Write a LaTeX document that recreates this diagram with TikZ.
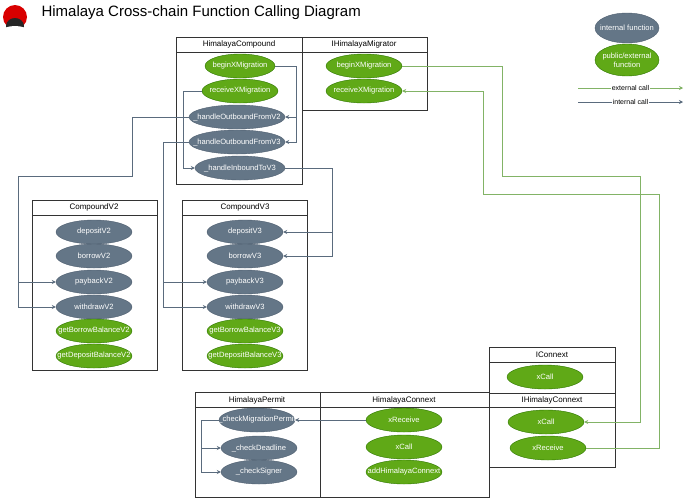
\documentclass[tikz,border=0pt]{standalone}
\usepackage{fontspec}
\setmainfont{Liberation Sans}
\usetikzlibrary{arrows.meta,shapes.geometric}
\definecolor{intfill}{HTML}{647687}
\definecolor{intline}{HTML}{4F5F70}
\definecolor{extfill}{HTML}{60A917}
\definecolor{extline}{HTML}{2D7600}
\definecolor{extcall}{HTML}{82B366}
\definecolor{intcall}{HTML}{5A6B7D}
\tikzset{
  fn/.style={ellipse,draw,inner xsep=-13pt,inner ysep=0pt,minimum width=76pt,minimum height=24pt,
    text=white,font=\fontsize{7.6}{9}\selectfont},
  intfn/.style={fn,fill=intfill,draw=intline},
  extfn/.style={fn,fill=extfill,draw=extline},
  head/.style={font=\fontsize{8}{9}\selectfont},
  frame/.style={draw=black!80,line width=0.8pt},
  intc/.style={draw=intcall,line width=0.8pt,-{Stealth[length=4pt,width=4pt]}},
  extc/.style={draw=extcall,line width=0.8pt,-{Stealth[length=4pt,width=4pt,fill=extline]}},
}
\begin{document}
\begin{tikzpicture}[x=1pt,y=-1pt]
\useasboundingbox (0,0) rectangle (690,499);
% title
\fill[red!85!black] (15,17) circle (12);
\fill[black!85] (15,26) ellipse (9 and 8);
\fill[white] (15,31) ellipse (13 and 5);
\node[anchor=west,font=\fontsize{15}{17}\selectfont] (title) at (38,13) {Himalaya Cross-chain Function Calling Diagram};
% legend
\node[intfn,minimum width=64pt,minimum height=30pt] (lgint) at (627,28) {internal function};
\node[extfn,minimum width=64pt,minimum height=32pt,align=center] (lgext) at (627,60) {public/external\\function};
\coordinate (le1) at (578,88); \coordinate (le2) at (683,88);
\coordinate (li1) at (578,102); \coordinate (li2) at (683,102);
\draw[extc] (le1) -- node[fill=white,inner sep=1pt,font=\fontsize{7}{8}\selectfont]{external call} (le2);
\draw[intc] (li1) -- node[fill=white,inner sep=1pt,font=\fontsize{7}{8}\selectfont]{internal call} (li2);
% frames
\draw[frame] (176,37) rectangle (302,184); \draw[frame] (176,52) -- (302,52);
\draw[frame] (302,37) rectangle (427,110); \draw[frame] (302,52) -- (427,52);
\draw[frame] (32,200) rectangle (157,370); \draw[frame] (32,215) -- (157,215);
\draw[frame] (182,200) rectangle (307,370); \draw[frame] (182,215) -- (307,215);
\draw[frame] (489,347) rectangle (615,393); \draw[frame] (489,362) -- (615,362);
\draw[frame] (489,393) rectangle (615,467); \draw[frame] (489,407) -- (615,407);
\draw[frame] (195,392) rectangle (320,497); \draw[frame] (195,407) -- (320,407);
\draw[frame] (320,392) rectangle (489,497); \draw[frame] (320,407) -- (489,407);
\node[head] (hHC) at (239,44.5) {HimalayaCompound};
\node[head] (hHM) at (364,44.5) {IHimalayaMigrator};
\node[head] (hV2) at (94,207.5) {CompoundV2};
\node[head] (hV3) at (245,207.5) {CompoundV3};
\node[head] (hIC) at (552,354.5) {IConnext};
\node[head] (hIH) at (552,400) {IHimalayConnext};
\node[head] (hHP) at (257,400) {HimalayaPermit};
\node[head] (hHX) at (404,400) {HimalayaConnext};
% HimalayaCompound
\node[extfn,minimum width=70pt] (cbegin) at (240,66) {beginXMigration};
\node[extfn,minimum width=76pt] (crecv) at (240,91) {receiveXMigration};
\node[intfn,minimum width=96pt] (hov2) at (237,117) {\_handleOutboundFromV2};
\node[intfn,minimum width=96pt] (hov3) at (237,142) {\_handleOutboundFromV3};
\node[intfn,minimum width=90pt] (hiv3) at (240,168) {\_handleInboundToV3};
% IHimalayaMigrator
\node[extfn,minimum width=76pt] (mbegin) at (364,66) {beginXMigration};
\node[extfn,minimum width=76pt] (mrecv) at (364,91) {receiveXMigration};
% CompoundV2
\node[intfn] (dep2) at (94,232) {depositV2};
\node[intfn] (bor2) at (94,256) {borrowV2};
\node[intfn] (pay2) at (94,282) {paybackV2};
\node[intfn] (wd2) at (94,307) {withdrawV2};
\node[extfn] (gbb2) at (94,331) {getBorrowBalanceV2};
\node[extfn] (gdb2) at (94,356) {getDepositBalanceV2};
% CompoundV3
\node[intfn] (dep3) at (245,232) {depositV3};
\node[intfn] (bor3) at (245,256) {borrowV3};
\node[intfn] (pay3) at (245,282) {paybackV3};
\node[intfn] (wd3) at (245,307) {withdrawV3};
\node[extfn] (gbb3) at (245,331) {getBorrowBalanceV3};
\node[extfn] (gdb3) at (245,356) {getDepositBalanceV3};
% IConnext / IHimalayConnext
\node[extfn] (icall) at (545,377) {xCall};
\node[extfn] (hxcall) at (546,422) {xCall};
\node[extfn] (hxrecv) at (548,448) {xReceive};
% HimalayaPermit
\node[intfn] (cmp) at (257,420) {\_checkMigrationPermit};
\node[intfn] (cdl) at (259,448) {\_checkDeadline};
\node[intfn] (csg) at (259,472) {\_checkSigner};
% HimalayaConnext
\node[extfn] (xrecv) at (404,420) {xReceive};
\node[extfn] (xcall) at (404,447) {xCall};
\node[extfn] (addhc) at (404,472) {addHimalayaConnext};
% internal calls
\coordinate (b1) at (296,66);
\draw[intc] (cbegin.east) -- (b1) |- (hov2.east);
\draw[intc] (b1) |- (hov3.east);
\coordinate (b2) at (183,91);
\draw[intc] (crecv.west) -- (b2) |- (hiv3.west);
\coordinate (b3) at (132,117); \coordinate (b4) at (132,176); \coordinate (b5) at (18,176);
\draw[intc] (hov2.west) -- (b3) -- (b4) -- (b5) |- (wd2.west);
\draw[intc] (b5) |- (pay2.west);
\coordinate (b6) at (163,142);
\draw[intc] (hov3.west) -- (b6) |- (wd3.west);
\draw[intc] (b6) |- (pay3.west);
\coordinate (b7) at (332,168);
\draw[intc] (hiv3.east) -- (b7) |- (bor3.east);
\draw[intc] (b7) |- (dep3.east);
\draw[intc] (xrecv.west) -- (cmp.east);
\coordinate (b8) at (201,420);
\draw[intc] (cmp.west) -- (b8) |- (csg.west);
\draw[intc] (b8) |- (cdl.west);
% external calls
\coordinate (e1) at (502,66); \coordinate (e2) at (502,176); \coordinate (e3) at (640,176);
\draw[extc] (mbegin.east) -- (e1) -- (e2) -- (e3) |- (hxcall.east);
\coordinate (e4) at (659,448); \coordinate (e5) at (659,194); \coordinate (e6) at (483,194);
\draw[extc] (hxrecv.east) -- (e4) -- (e5) -- (e6) |- (mrecv.east);
\end{tikzpicture}
\end{document}
